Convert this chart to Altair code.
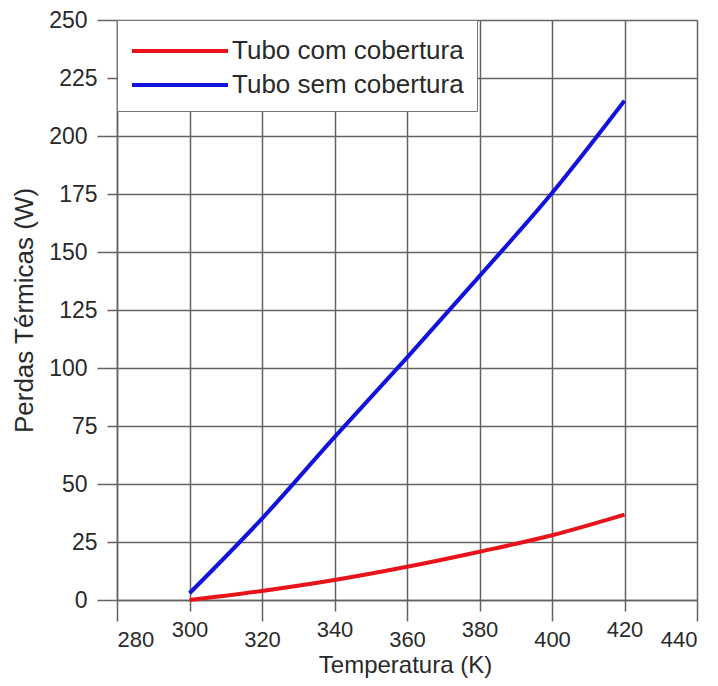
import altair as alt
import pandas as pd

temperatura = [300, 320, 340, 360, 380, 400, 420]
com_cobertura = [0.0, 3.9, 8.6, 14.3, 20.8, 27.9, 36.8]
sem_cobertura = [2.9, 35.1, 70.2, 104.5, 139.6, 175.4, 215.2]
series_names = ["Tubo com cobertura", "Tubo sem cobertura"]
series_colors = ["#e8121a", "#1212dc"]
x_ticks = [280, 300, 320, 340, 360, 380, 400, 420, 440]
y_ticks = [0, 25, 50, 75, 100, 125, 150, 175, 200, 225, 250]

df = pd.DataFrame({
    "T": temperatura * 2,
    "P": com_cobertura + sem_cobertura,
    "serie": [series_names[0]] * len(temperatura) + [series_names[1]] * len(temperatura),
})

FONT = "Liberation Sans"
GRID = "#636363"
TXT = "#2a2a2a"

x_axis = alt.Axis(
    values=x_ticks, grid=True, gridColor=GRID, gridWidth=1.5,
    domainColor=GRID, domainWidth=1.5, tickColor=GRID, tickWidth=1.5,
    tickSize={"condition": {"test": "datum.value % 40 == 0", "value": 21}, "value": 11},
    labelPadding=8,
    labelFont=FONT, labelFontSize=22, labelColor=TXT, labelAngle=0,
    title="Temperatura (K)", titleFont=FONT, titleFontSize=24, titleFontWeight="normal",
    titleColor=TXT, titleX=288, titleY=65, titleBaseline="middle", titleAnchor="middle",
)
y_axis = alt.Axis(
    values=y_ticks, grid=True, gridColor=GRID, gridWidth=1.5,
    domainColor=GRID, domainWidth=1.5, tickColor=GRID, tickWidth=1.5,
    tickSize={"condition": {"test": "datum.value % 50 == 0", "value": 20}, "value": 10},
    labelPadding=10,
    labelFont=FONT, labelFontSize=23, labelColor=TXT,
    title="Perdas Térmicas (W)", titleFont=FONT, titleFontSize=26, titleFontWeight="normal",
    titleColor=TXT, titleX=-93, titleY=290, titleBaseline="middle", titleAnchor="middle",
    titleAngle=270,
)

legend = alt.Legend(
    orient="none", legendX=0, legendY=0, title=None,
    symbolType="M-1,0H5", symbolSize=1024, symbolStrokeWidth=4, symbolOffset=0,
    labelOffset=66, labelFont=FONT, labelFontSize=26, labelColor=TXT, labelLimit=500,
    padding=13, rowPadding=3, strokeColor="#777777", fillColor="white", cornerRadius=0,
)

chart = alt.Chart(df).mark_line(strokeWidth=4, interpolate="monotone").encode(
    x=alt.X("T:Q", scale=alt.Scale(domain=[280, 440], nice=False, zero=False), axis=x_axis),
    y=alt.Y("P:Q", scale=alt.Scale(domain=[0, 250], nice=False), axis=y_axis),
    color=alt.Color("serie:N", scale=alt.Scale(domain=series_names, range=series_colors), legend=legend),
).properties(
    width=580, height=580,
    autosize=alt.AutoSizeParams(type="none"),
    padding={"left": 109, "top": 12, "right": 13, "bottom": 78},
).configure_view(stroke=GRID, strokeWidth=1.5).configure(background="white")

chart.save("out.html", embed_options={"renderer": "svg", "actions": False})
